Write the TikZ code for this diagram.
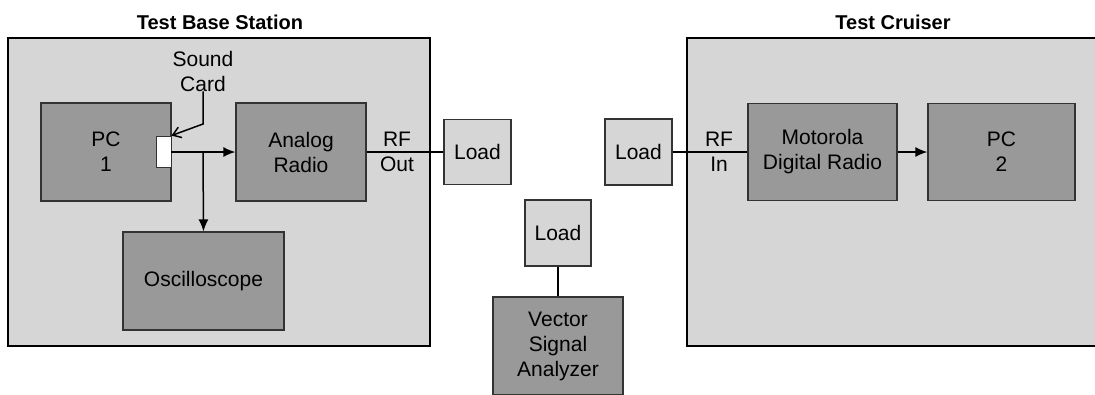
\documentclass[tikz,border=0pt]{standalone}
\usepackage{fontspec}
\setmainfont{Liberation Sans}
\usetikzlibrary{arrows.meta}
\definecolor{outerfill}{gray}{0.84}
\definecolor{darkfill}{gray}{0.60}
\definecolor{loadfill}{gray}{0.84}
\tikzset{
  every node/.style={font=\fontsize{21bp}{25bp}\selectfont, inner sep=0pt, align=center},
  outerbox/.style={draw=black, line width=1.2bp, fill=outerfill, rectangle},
  unitbox/.style={draw=black!80, line width=1.2bp, fill=darkfill, rectangle},
  loadbox/.style={draw=black!80, line width=1.2bp, fill=loadfill, rectangle},
  cardbox/.style={draw=black!80, line width=0.8bp, fill=white, rectangle},
  titletext/.style={font=\fontsize{20bp}{24bp}\selectfont\bfseries},
  wire/.style={line width=1.5bp, draw=black},
  arrowwire/.style={wire, -{Latex[length=12bp,width=10bp]}},
  leader/.style={wire, -{Straight Barb[length=8bp,width=11bp]}}
}
\begin{document}
\begin{tikzpicture}[x=1bp,y=-1bp]
\clip (0,0) rectangle (1095,394);
\fill[white] (0,0) rectangle (1095,394);
% outer boxes
\node[outerbox, minimum width=422bp, minimum height=308bp] (outerL) at (219,192) {};
\node[outerbox, minimum width=430bp, minimum height=308bp] (outerR) at (902,192) {};
\node[titletext] (titleL) at (220,22) {Test Base Station};
\node[titletext] (titleR) at (893,22) {Test Cruiser};
% base station
\node[unitbox, minimum width=130bp, minimum height=98bp] (pc1) at (106,152) {PC\\1};
\node[cardbox, minimum width=15bp, minimum height=31bp] (sc) at (163.5,151.5) {};
\node[unitbox, minimum width=130bp, minimum height=98bp] (ar) at (301,152) {Analog\\Radio};
\node[unitbox, minimum width=161bp, minimum height=98bp] (osc) at (203.5,281) {Oscilloscope};
\node (sclabel) at (203,71) {Sound\\Card};
\coordinate (bend) at (203,124);
\coordinate (j) at (203,152);
\draw[leader] (sclabel.south) -- (bend) -- (sc.north east);
\draw[arrowwire] (sc.east |- j) -- (ar.west |- j);
\draw[arrowwire] (j) -- (osc.north);
% cruiser
\node[unitbox, minimum width=149bp, minimum height=97bp] (moto) at (822.5,152) {Motorola\\Digital Radio};
\node[unitbox, minimum width=147bp, minimum height=97bp] (pc2) at (1001.5,152) {PC\\2};
\draw[arrowwire] (moto.east) -- (pc2.west);
% loads and analyzer
\node[loadbox, minimum width=67bp, minimum height=65bp] (loadL) at (477.5,152) {Load};
\node[loadbox, minimum width=67bp, minimum height=66bp] (loadR) at (638.5,152) {Load};
\node[loadbox, minimum width=66bp, minimum height=66bp] (loadM) at (558,233) {Load};
\node[unitbox, minimum width=130bp, minimum height=98bp] (vsa) at (558,346) {Vector\\Signal\\Analyzer};
\node (rfout) at (397,152) {RF\\Out};
\node (rfin) at (719,152) {RF\\In};
\draw[wire] (ar.east) -- (loadL.west);
\draw[wire] (loadR.east) -- (moto.west);
\draw[wire] (loadM.south) -- (vsa.north);
\end{tikzpicture}
\end{document}
